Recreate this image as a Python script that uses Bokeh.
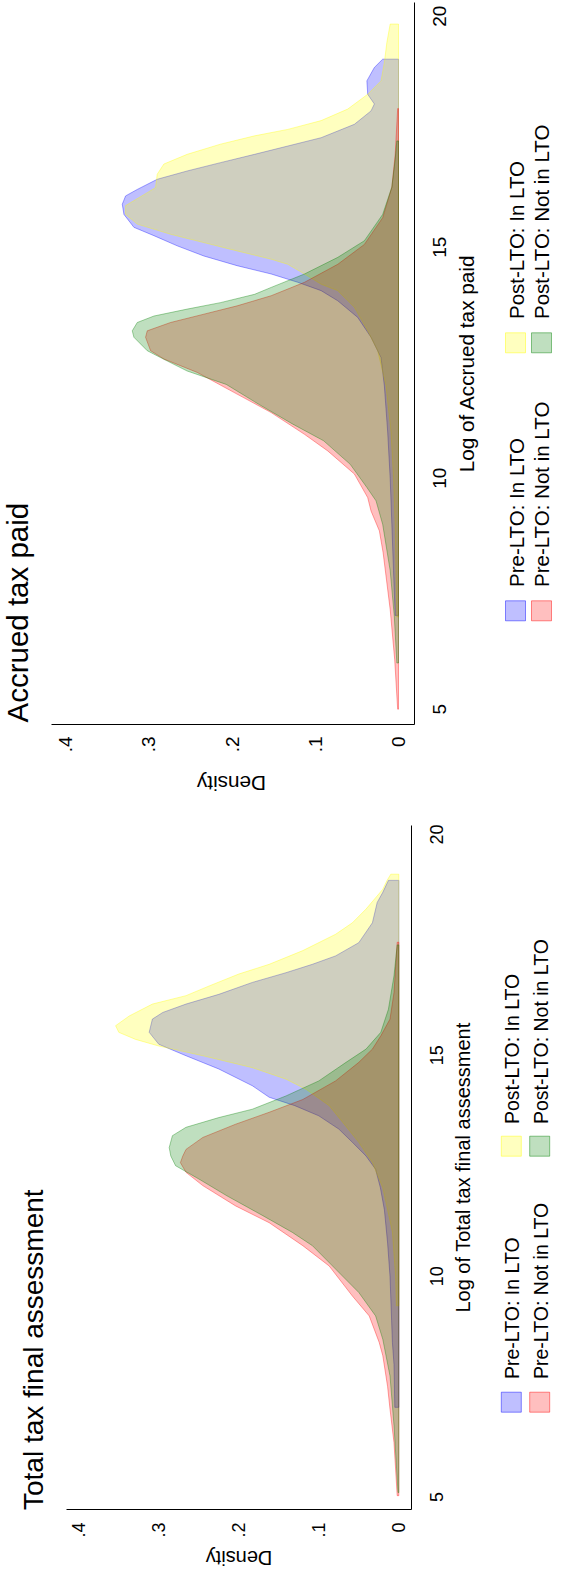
import math
from bokeh.plotting import figure
from bokeh.models import Range1d, LinearAxis, FixedTicker
from bokeh.layouts import column
from bokeh.core.properties import value
from bokeh.embed import file_html
from bokeh.resources import INLINE

FONT = "Liberation Sans"

# ---------------- legend / series ----------------
series_names = ["Pre-LTO: In LTO", "Post-LTO: In LTO", "Pre-LTO: Not in LTO", "Post-LTO: Not in LTO"]
series_colors = ["#0000FF", "#FFFF00", "#FF0000", "#008000"]

density_ticks = [0, 0.1, 0.2, 0.3, 0.4]
density_tick_labels = ["0", ".1", ".2", ".3", ".4"]
log_ticks = [5, 10, 15, 20]
log_tick_labels = ["5", "10", "15", "20"]

# ---------------- Accrued tax paid (log value -> density) ----------------
acc_pre_in_v = [7.03, 8.0, 9.0, 10.0, 11.0, 12.0, 12.61, 13.05, 13.48, 13.84, 14.06, 14.24, 14.42, 14.6, 14.81,
                15.03, 15.25, 15.43, 15.71, 15.93, 16.11, 16.25, 16.47, 16.65, 16.83, 17.01, 17.19, 17.37, 17.66,
                17.95, 18.1, 18.31, 18.6, 18.89, 19.07]
acc_pre_in_d = [0.004, 0.006, 0.008, 0.01, 0.013, 0.017, 0.021, 0.033, 0.049, 0.073, 0.093, 0.121, 0.153, 0.194,
                0.234, 0.266, 0.294, 0.318, 0.33, 0.332, 0.328, 0.314, 0.29, 0.254, 0.214, 0.173, 0.133, 0.093,
                0.053, 0.033, 0.029, 0.037, 0.038, 0.029, 0.019]

acc_post_in_v = [7.0, 8.0, 9.0, 10.0, 11.0, 12.0, 12.76, 13.19, 13.7, 14.06, 14.2, 14.42, 14.63, 14.74, 14.92,
                 15.1, 15.28, 15.5, 15.71, 15.9, 16.18, 16.29, 16.58, 16.8, 17.01, 17.23, 17.41, 17.55, 17.74,
                 17.99, 18.31, 18.6, 19.0, 19.43, 19.83]
acc_post_in_d = [0.002, 0.003, 0.004, 0.006, 0.009, 0.015, 0.025, 0.037, 0.053, 0.073, 0.093, 0.113, 0.133, 0.153,
                 0.194, 0.234, 0.274, 0.314, 0.328, 0.328, 0.302, 0.292, 0.29, 0.282, 0.254, 0.214, 0.173, 0.133,
                 0.093, 0.061, 0.037, 0.021, 0.017, 0.014, 0.01]

acc_pre_not_v = [5.0, 6.08, 7.16, 8.39, 8.86, 9.29, 9.58, 10.09, 10.59, 10.95, 11.42, 11.82, 12.29, 12.58, 12.76,
                 13.05, 13.19, 13.37, 13.55, 13.73, 13.95, 14.24, 14.63, 15.06, 15.64, 16.3, 17.0, 18.0]
acc_pre_not_d = [0.001, 0.0046, 0.01, 0.0185, 0.023, 0.033, 0.037, 0.053, 0.085, 0.113, 0.153, 0.194, 0.242, 0.282,
                 0.298, 0.304, 0.302, 0.274, 0.234, 0.194, 0.153, 0.113, 0.073, 0.041, 0.019, 0.008, 0.004, 0.001]

acc_post_not_v = [6.0, 7.0, 8.0, 9.0, 9.51, 9.8, 10.3, 10.81, 11.17, 11.6, 12.03, 12.32, 12.61, 12.76, 13.05,
                  13.19, 13.37, 13.51, 13.66, 13.8, 13.98, 14.13, 14.42, 14.78, 15.14, 15.71, 16.3, 16.9, 17.3]
acc_post_not_d = [0.002, 0.005, 0.01, 0.019, 0.027, 0.038, 0.058, 0.09, 0.127, 0.168, 0.207, 0.254, 0.286, 0.302,
                  0.318, 0.32, 0.314, 0.294, 0.254, 0.214, 0.173, 0.153, 0.113, 0.073, 0.041, 0.019, 0.008, 0.004,
                  0.002]

# ---------------- Total tax final assessment (log value -> density) ----------------
tot_pre_in_v = [7.03, 8.0, 8.5, 9.0, 10.0, 10.75, 11.5, 12.0, 12.42, 12.72, 13.03, 13.33, 13.63, 13.86, 14.05,
                14.31, 14.69, 14.99, 15.25, 15.52, 15.82, 15.97, 16.16, 16.38, 16.65, 16.87, 17.06, 17.25, 17.55,
                18.0, 18.46, 18.69, 18.96]
tot_pre_in_d = [0.005, 0.006, 0.008, 0.009, 0.011, 0.014, 0.018, 0.023, 0.029, 0.041, 0.058, 0.075, 0.1, 0.13,
                0.162, 0.183, 0.225, 0.266, 0.3, 0.312, 0.308, 0.295, 0.266, 0.225, 0.183, 0.141, 0.108, 0.079,
                0.05, 0.033, 0.027, 0.02, 0.013]

tot_post_in_v = [9.33, 10.0, 11.0, 12.0, 12.57, 13.03, 13.48, 13.86, 14.23, 14.46, 14.72, 14.99, 15.21, 15.36,
                 15.52, 15.67, 15.89, 16.16, 16.35, 16.57, 16.84, 17.06, 17.37, 17.74, 18.0, 18.31, 18.76, 18.95,
                 19.1]
tot_post_in_d = [0.003, 0.004, 0.008, 0.02, 0.033, 0.05, 0.07, 0.087, 0.116, 0.141, 0.183, 0.245, 0.3, 0.329,
                 0.35, 0.354, 0.337, 0.308, 0.266, 0.237, 0.2, 0.162, 0.12, 0.079, 0.058, 0.041, 0.02, 0.015, 0.01]

tot_pre_not_v = [5.03, 6.23, 6.99, 7.5, 8.2, 8.5, 9.1, 9.55, 10.23, 10.69, 11.21, 11.59, 12.05, 12.35, 12.57,
                 12.72, 12.87, 13.14, 13.44, 13.71, 14.0, 14.42, 14.84, 15.14, 15.44, 15.82, 16.42, 17.0, 17.56]
tot_pre_not_d = [0.002, 0.006, 0.011, 0.014, 0.02, 0.0245, 0.037, 0.058, 0.087, 0.12, 0.162, 0.204, 0.245, 0.266,
                 0.273, 0.27, 0.266, 0.245, 0.204, 0.162, 0.12, 0.079, 0.05, 0.033, 0.0225, 0.011, 0.006, 0.004,
                 0.002]

tot_post_not_v = [5.1, 6.62, 7.74, 8.57, 9.1, 9.63, 10.16, 10.69, 10.99, 11.37, 11.82, 12.2, 12.5, 12.72, 12.91,
                  13.18, 13.37, 13.59, 13.78, 14.08, 14.42, 14.84, 15.14, 15.52, 16.04, 16.8, 17.5]
tot_post_not_d = [0.001, 0.006, 0.011, 0.02, 0.029, 0.05, 0.079, 0.108, 0.133, 0.17, 0.215, 0.25, 0.279, 0.285,
                  0.287, 0.283, 0.266, 0.225, 0.183, 0.141, 0.1, 0.066, 0.041, 0.0225, 0.013, 0.006, 0.002]

# ---------------- layout (page pixel calibration of each panel) ----------------
# text anchors below are the centres of the text boxes across the reading direction
PANEL_W = 553
PANELS = [
    dict(top=8, h=804, d0x=406.0, ppd=832.0, v5y=716.7, ppv=46.2,
         ax_y=731.7, ax_x=422.0, ax_left=59.0, ax_top=10.0,
         title="Accrued tax paid", title_cx=24.8, title_y=730.0, title_fs=29.5,
         xtitle="Log of Accrued tax paid", xtitle_cx=473.5, fs_lab=20.75,
         dens_x=239.0, dens_cy=790.7,
         fs_tick=19, dlab_end_y=744.0, vlab_cx=446.5,
         fs_leg=20.5, leg_sq_x=(523.0, 549.0), leg_txt_cx=(523.5, 549.0),
         leg_sq_y=(618.3, 350.3), leg_txt_y=(594.5, 326.5), sq=20,
         v=[acc_pre_in_v, acc_post_in_v, acc_pre_not_v, acc_post_not_v],
         d=[acc_pre_in_d, acc_post_in_d, acc_pre_not_d, acc_post_not_d]),
    dict(top=812, h=765, d0x=406.3, ppd=800.0, v5y=1504.5, ppv=44.17,
         ax_y=1517.0, ax_x=419.0, ax_left=74.0, ax_top=833.0,
         title="Total tax final assessment", title_cx=40.8, title_y=1517.5, title_fs=28,
         xtitle="Log of Total tax final assessment", xtitle_cx=470.4, fs_lab=20,
         dens_x=246.5, dens_cy=1565.0,
         fs_tick=18, dlab_end_y=1530.0, vlab_cx=443.6,
         fs_leg=19.5, leg_sq_x=(518.8, 547.2), leg_txt_cx=(519.9, 548.2),
         leg_sq_y=(1409.7, 1153.7), leg_txt_y=(1386.5, 1131.5), sq=20,
         v=[tot_pre_in_v, tot_post_in_v, tot_pre_not_v, tot_post_not_v],
         d=[tot_pre_in_d, tot_post_in_d, tot_pre_not_d, tot_post_not_d]),
]

UP = math.pi / 2      # text reading bottom -> top
FLIP = math.pi        # upside-down text


def build(P):
    W, H = PANEL_W, P["h"]
    ox, oy = 8, P["top"]

    def dx(px):
        return (P["d0x"] - px) / P["ppd"]

    def vy(py):
        return 5 + (P["v5y"] - py) / P["ppv"]

    p = figure(width=W, height=H,
               x_range=Range1d(dx(ox), dx(ox + W)),
               y_range=Range1d(vy(oy + H), vy(oy)),
               x_axis_location=None, y_axis_location=None,
               toolbar_location=None, output_backend="svg",
               min_border=0, outline_line_color=None,
               background_fill_color="white", border_fill_color="white")
    p.grid.visible = False

    # axes drawn at fixed positions; they take no room in the side panels
    axis_style = dict(major_tick_out=0, major_tick_in=0, minor_tick_out=0, minor_tick_in=0,
                      axis_line_color="black", axis_line_width=1,
                      major_label_standoff=0, axis_label_standoff=0, axis_label=None,
                      major_label_text_font_size="0px")
    # density axis (the original y axis), drawn horizontally
    xax = LinearAxis(fixed_location=vy(P["ax_y"]),
                     bounds=(dx(P["ax_x"]), dx(P["ax_left"])),
                     ticker=FixedTicker(ticks=[]), **axis_style)
    p.add_layout(xax, "below")
    # log axis (the original x axis), drawn vertically on the right
    yax = LinearAxis(fixed_location=dx(P["ax_x"]),
                     bounds=(vy(P["ax_y"]), vy(P["ax_top"])),
                     ticker=FixedTicker(ticks=[]), **axis_style)
    p.add_layout(yax, "right")

    # density areas
    for color, v, d in zip(series_colors, P["v"], P["d"]):
        xs = [0.0] + list(d) + [0.0]
        ys = [v[0]] + list(v) + [v[-1]]
        p.patch(xs, ys, fill_color=color, fill_alpha=0.25,
                line_color=color, line_alpha=0.45, line_width=0.8)

    def txt(x, y, s, size, angle, align):
        p.text(x=x, y=y, text=s, angle=angle,
               text_align=align, text_baseline="middle",
               text_font=value(FONT), text_font_size=value(f"{size}px"),
               text_color="black")

    # tick labels (rotated with the chart)
    fs = P["fs_tick"]
    txt(density_ticks, [vy(P["dlab_end_y"])] * len(density_ticks), density_tick_labels, fs, UP, "right")
    txt([dx(P["vlab_cx"])] * len(log_ticks), log_ticks, log_tick_labels, fs, UP, "center")

    # titles
    txt([dx(P["title_cx"])], [vy(P["title_y"])], [P["title"]], P["title_fs"], UP, "left")
    txt([dx(P["xtitle_cx"])], [vy((P["ax_y"] + P["ax_top"]) / 2)], [P["xtitle"]], P["fs_lab"], UP, "center")
    txt([dx(P["dens_x"])], [vy(P["dens_cy"])], ["Density"], P["fs_lab"], FLIP, "center")

    # legend (2 x 2)
    for i, (name, color) in enumerate(zip(series_names, series_colors)):
        col, pos = i // 2, i % 2
        p.scatter([dx(P["leg_sq_x"][col])], [vy(P["leg_sq_y"][pos])], marker="square", size=P["sq"],
                  fill_color=color, fill_alpha=0.25, line_color=color, line_alpha=0.45, line_width=1)
        txt([dx(P["leg_txt_cx"][col])], [vy(P["leg_txt_y"][pos])], [name], P["fs_leg"], UP, "left")
    return p


figs = [build(P) for P in PANELS]
layout = column(*figs, spacing=0)

open("out.html", "w").write(file_html(layout, INLINE, title="Density plots"))
